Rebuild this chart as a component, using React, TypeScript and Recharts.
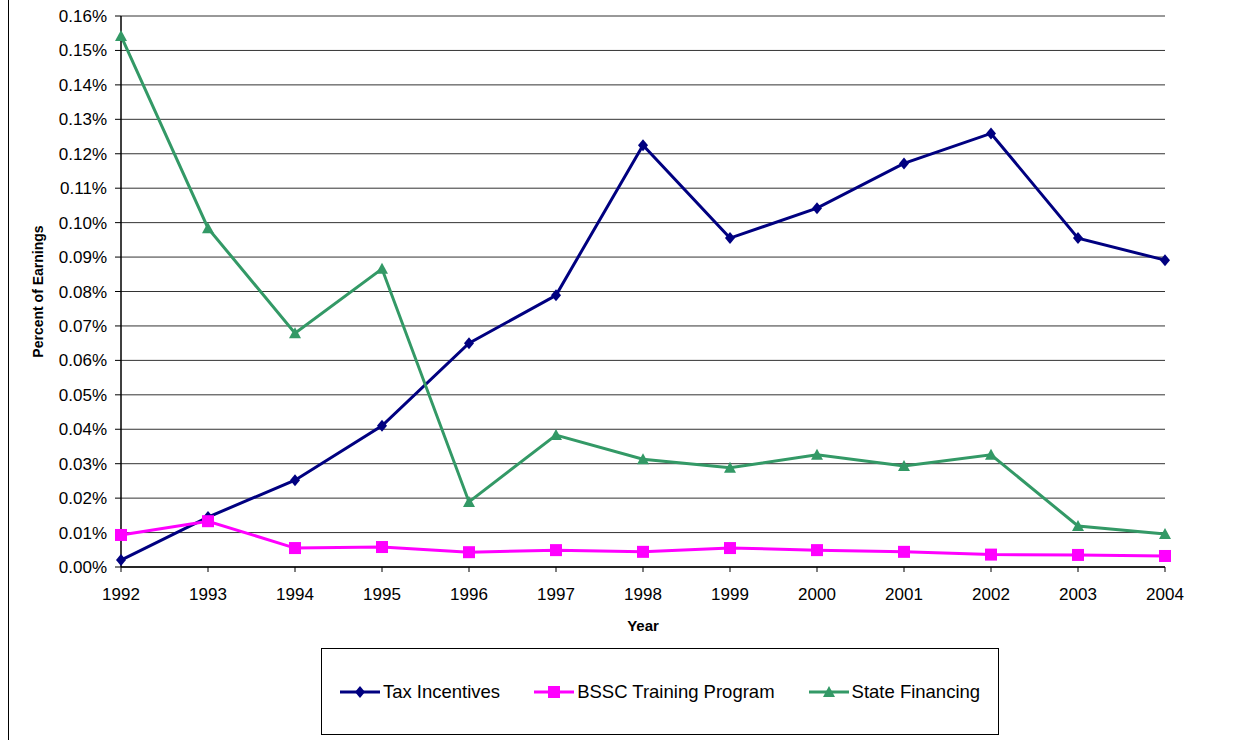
import { CartesianGrid, Line, LineChart, XAxis, YAxis } from "recharts";

const years = ["1992", "1993", "1994", "1995", "1996", "1997", "1998", "1999", "2000", "2001", "2002", "2003", "2004"];

const taxIncentives = [0.002, 0.0145, 0.0252, 0.041, 0.065, 0.0789, 0.1225, 0.0955, 0.1042, 0.1172, 0.1259, 0.0955, 0.0891];
const bsscTraining = [0.0093, 0.0133, 0.0055, 0.0058, 0.0043, 0.0049, 0.0044, 0.0055, 0.0049, 0.0044, 0.0036, 0.0035, 0.0032];
const stateFinancing = [0.1542, 0.0984, 0.0679, 0.0866, 0.0189, 0.0383, 0.0313, 0.0288, 0.0326, 0.0293, 0.0326, 0.0119, 0.0096];

const yTicks = [0, 0.01, 0.02, 0.03, 0.04, 0.05, 0.06, 0.07, 0.08, 0.09, 0.1, 0.11, 0.12, 0.13, 0.14, 0.15, 0.16];

const seriesNames = ["Tax Incentives", "BSSC Training Program", "State Financing"];
const seriesColors = ["#000080", "#ff00ff", "#339966"];

const data = years.map((year, i) => ({
  year,
  tax: taxIncentives[i],
  bssc: bsscTraining[i],
  state: stateFinancing[i],
}));

const FONT = "Arial, 'Liberation Sans', Helvetica, sans-serif";

function Diamond({ cx, cy, color }: { cx: number; cy: number; color: string }) {
  return <path d={`M${cx},${cy - 6}L${cx + 5},${cy}L${cx},${cy + 6}L${cx - 5},${cy}Z`} fill={color} />;
}

function Square({ cx, cy, color }: { cx: number; cy: number; color: string }) {
  return <rect x={cx - 6} y={cy - 6} width={12} height={12} fill={color} />;
}

function Triangle({ cx, cy, color }: { cx: number; cy: number; color: string }) {
  return <path d={`M${cx},${cy - 6}L${cx + 6},${cy + 5}L${cx - 6},${cy + 5}Z`} fill={color} />;
}

const markers = [Diamond, Square, Triangle];

function makeDot(idx: number) {
  const Marker = markers[idx];
  return (props: any) => {
    const { cx, cy, index } = props;
    if (cx == null || cy == null) return <g key={`d-${idx}-${index}`} />;
    return (
      <g key={`d-${idx}-${index}`}>
        <Marker cx={cx} cy={cy} color={seriesColors[idx]} />
      </g>
    );
  };
}

function LegendBox() {
  return (
    <div
      style={{
        position: "absolute",
        left: 321,
        top: 648,
        width: 676,
        height: 85,
        border: "1px solid #000",
        display: "flex",
        alignItems: "center",
        justifyContent: "center",
        gap: 34,
        fontFamily: FONT,
        fontSize: 18.5,
        background: "#fff",
      }}
    >
      {seriesNames.map((name, i) => {
        const Marker = markers[i];
        return (
          <div key={name} style={{ display: "flex", alignItems: "center" }}>
            <svg width={40} height={16}>
              <line x1={0} y1={8} x2={40} y2={8} stroke={seriesColors[i]} strokeWidth={3} />
              <Marker cx={20} cy={8} color={seriesColors[i]} />
            </svg>
            <span style={{ marginLeft: 3 }}>{name}</span>
          </div>
        );
      })}
    </div>
  );
}

export default function App() {
  return (
    <div style={{ position: "absolute", left: 0, top: 0, width: 1238, height: 740, background: "#fff" }}>
      <div style={{ position: "absolute", left: 8, top: 0, width: 1, height: 740, background: "#000" }} />
      <div style={{ position: "absolute", left: 0, top: 0 }}>
        <LineChart
          width={1238}
          height={740}
          data={data}
          margin={{ top: 16, right: 73, left: 21, bottom: 143 }}
          style={{ fontFamily: FONT }}
        >
          <CartesianGrid stroke="#333" vertical={false} horizontalValues={yTicks} />
          <XAxis
            dataKey="year"
            height={30}
            padding={{ left: 0, right: 0 }}
            axisLine={{ stroke: "#000", strokeWidth: 1.5 }}
            tickLine={{ stroke: "#000" }}
            tickSize={5}
            tickMargin={16}
            interval={0}
            tick={{ fill: "#000", fontSize: 17 }}
            label={{
              content: (props: any) => {
                const vb = props.viewBox;
                return (
                  <text
                    x={vb.x + vb.width / 2}
                    y={631}
                    textAnchor="middle"
                    fontSize={15}
                    fontWeight="bold"
                    fill="#000"
                  >
                    Year
                  </text>
                );
              },
            }}
          />
          <YAxis
            domain={[0, 0.16]}
            ticks={yTicks}
            width={100}
            interval={0}
            axisLine={{ stroke: "#000", strokeWidth: 1.5 }}
            tickLine={{ stroke: "#000" }}
            tickSize={6}
            tickMargin={8}
            tick={{ fill: "#000", fontSize: 17 }}
            tickFormatter={(v: number) => `${v.toFixed(2)}%`}
            label={{
              content: (props: any) => {
                const vb = props.viewBox;
                const cy = vb.y + vb.height / 2;
                return (
                  <text
                    x={43}
                    y={cy}
                    transform={`rotate(-90 43 ${cy})`}
                    textAnchor="middle"
                    fontSize={14}
                    fontWeight="bold"
                    fill="#000"
                  >
                    Percent of Earnings
                  </text>
                );
              },
            }}
          />
          <YAxis
            yAxisId="right"
            orientation="right"
            width={0}
            domain={[0, 0.16]}
            axisLine={{ stroke: "#888", strokeWidth: 2 }}
            tick={false}
            tickLine={false}
          />
          <Line
            dataKey="tax"
            name={seriesNames[0]}
            stroke={seriesColors[0]}
            strokeWidth={3}
            dot={makeDot(0)}
            activeDot={false}
            isAnimationActive={false}
          />
          <Line
            dataKey="bssc"
            name={seriesNames[1]}
            stroke={seriesColors[1]}
            strokeWidth={3}
            dot={makeDot(1)}
            activeDot={false}
            isAnimationActive={false}
          />
          <Line
            dataKey="state"
            name={seriesNames[2]}
            stroke={seriesColors[2]}
            strokeWidth={3}
            dot={makeDot(2)}
            activeDot={false}
            isAnimationActive={false}
          />
        </LineChart>
      </div>
      <LegendBox />
    </div>
  );
}
